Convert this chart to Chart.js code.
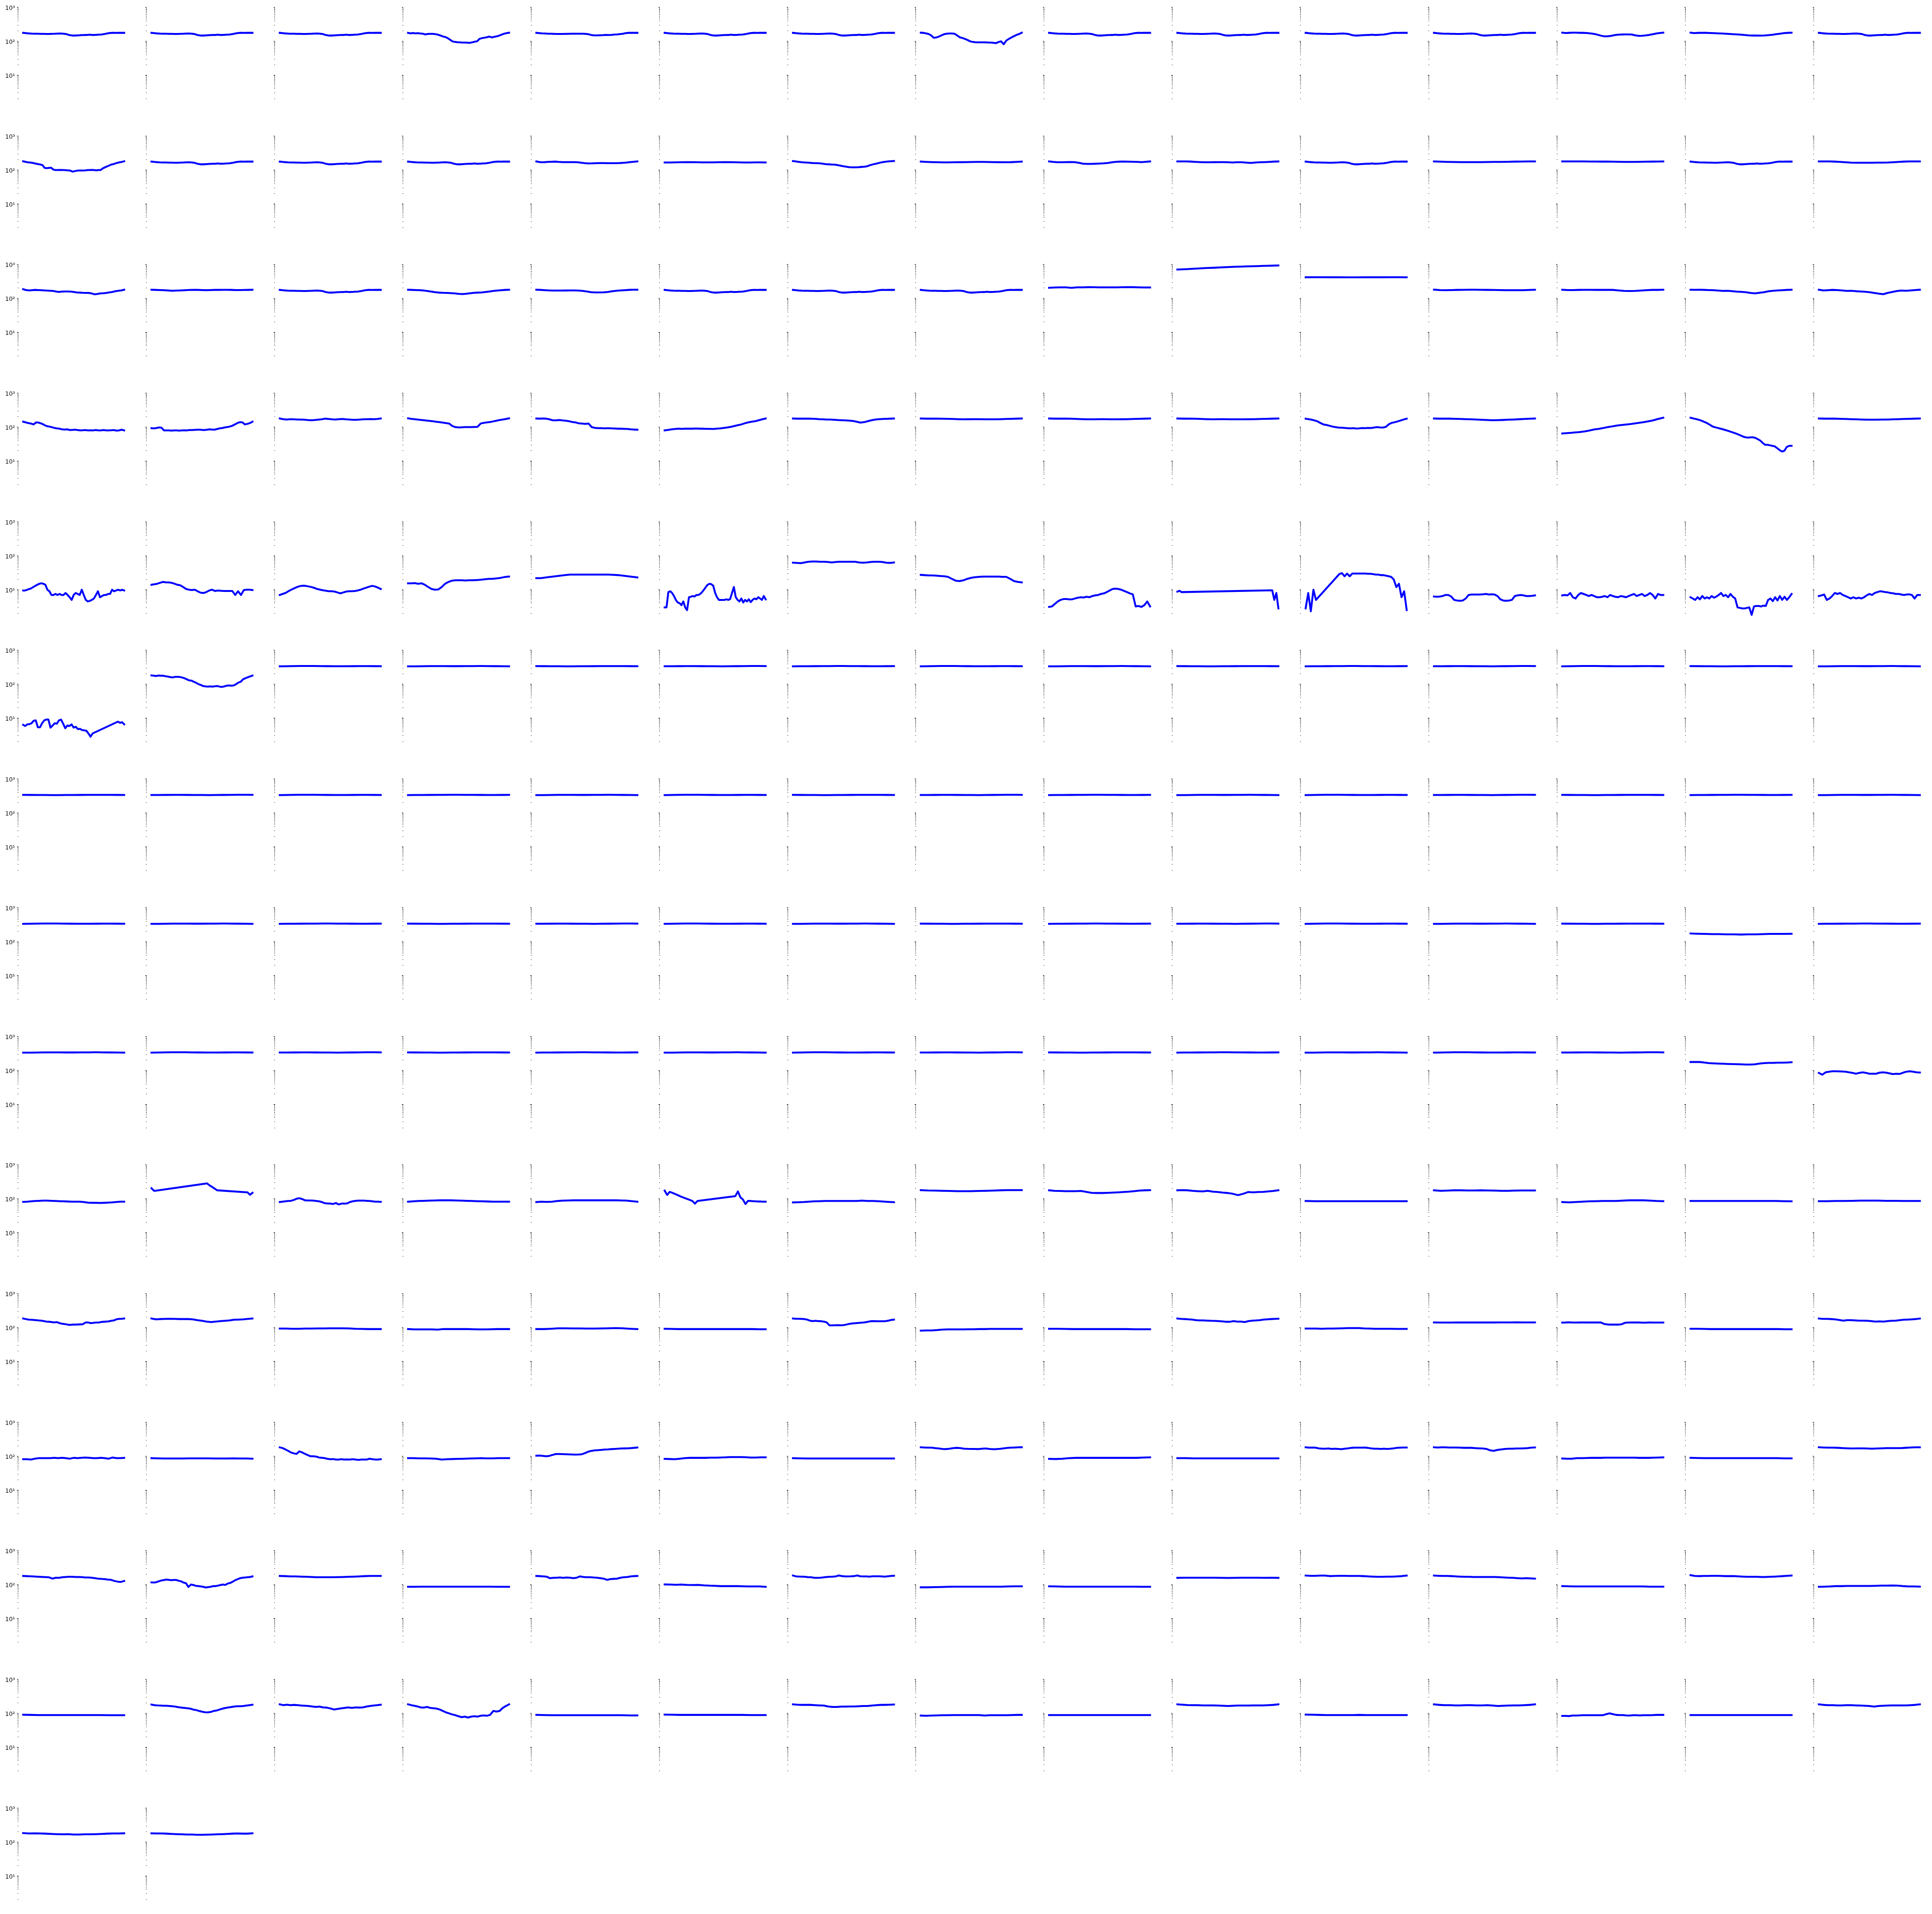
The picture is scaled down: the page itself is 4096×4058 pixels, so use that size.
<!DOCTYPE html>
<html><head><meta charset="utf-8">
<script src="https://cdn.jsdelivr.net/npm/chart.js@4.4.1/dist/chart.umd.min.js"></script>
<style>
html,body{margin:0;padding:0;background:#fff;overflow:hidden;}
#wrap{position:relative;width:4096px;height:4058px;overflow:hidden;background:#fff;}
#wrap canvas{position:absolute;}
</style></head><body><div id="wrap"></div>
<script>
// ---------- tick values / labels ----------
const tickValues = [2,3,4,4.5,5,5.5,6,6.5,7,7.5,8,8.5,9,9.5,10,
  20,30,40,45,50,55,60,65,70,75,80,85,90,95,100,
  200,300,400,450,500,550,600,650,700,750,800,850,900,950,1000];
const majorTicks = [10,100,1000];
const tickLabels = ['10¹','10²','10³'];

// ---------- repeated shapes ----------
const T1  = [178,174,171,169,168,167,166,166,165,165,166,167,169,170,168,163,153,148,148,150,152,153,154,157,154,155,157,159,163,170,176,178,177,178,178,178];
const T1b = [178,175,172,170,168,167,166,165,165,165,166,166,167,167,168,168,168,166,162,154,150,150,151,152,155,153,155,158,160,163,168,175,178,178,178,178];
const FA = [338,340,343,345,346,345,343,341,340,340,340,341,342,342,341,340];
const FB = [342,341,340,339,338,338,339,340,341,342,343,343,342,341,340];
const FC = [336,338,340,342,343,342,341,341,342,343,344,343,341,339,338];
const FD = [340,340,341,342,342,341,340,339,338,339,341,343,345,344,342];
const FE = [338,339,340,341,342,343,344,344,343,342,341,340,340,341,342];
const N = null;

// ---------- series, one list per row ----------
const row1 = [
 T1, T1, T1,
 [178,172,176,172,174,170,168,160,165,166,166,163,158,150,140,135,125,112,100,96,94,93,92,92,91,90,93,97,100,118,124,128,132,138,130,136,140,148,158,168,175,180],
 T1b, T1, T1,
 [180,178,172,165,150,128,130,138,150,162,168,170,170,168,150,132,126,118,110,100,96,94,93,93,93,93,92,92,90,88,95,100,82,105,118,130,142,155,165,180],
 T1, T1, T1, T1,
 [180,176,178,180,180,178,178,176,172,166,158,148,140,140,145,152,157,159,160,160,158,150,145,146,150,155,162,170,176,180],
 [180,175,178,178,178,176,174,172,170,167,165,162,160,157,153,150,148,148,147,149,152,156,162,168,174,178,180],
 T1
];
const row2 = [
 [182,176,170,168,165,160,155,150,146,140,116,114,116,118,104,100,100,101,100,100,99,98,96,90,93,96,97,97,97,98,100,100,101,100,98,100,100,112,120,128,136,146,150,158,165,170,175,182],
 T1, T1, T1,
 [180,172,170,175,176,178,174,172,172,172,172,170,165,160,157,158,160,161,161,160,160,160,161,163,166,172,176,180],
 [168,168,169,170,171,171,170,169,169,169,170,171,171,170,169,168,168,169,169,168],
 [185,180,175,170,168,166,163,161,160,158,155,150,148,146,145,140,135,130,126,122,121,121,122,124,126,130,140,148,155,163,170,176,180,183,185],
 [178,175,172,170,169,169,170,171,172,173,174,174,173,172,171,170,171,174,178],
 [180,174,170,170,172,173,172,165,155,152,152,154,156,158,162,170,176,178,178,177,176,174,172,176,180],
 [180,180,180,178,175,172,170,170,171,172,172,170,168,170,170,166,162,168,170,172,175,178,180],
 T1,
 [180,177,175,173,172,172,172,172,173,174,175,176,178,179,180,180],
 [180,180,180,180,180,179,179,178,178,177,176,175,175,175,176,177,178,179,180],
 T1,
 [180,180,180,178,175,170,166,165,165,165,165,166,166,167,170,174,178,180,180,180]
];
const row3 = [
 [187,176,172,175,178,176,174,172,170,168,166,160,155,158,160,160,158,155,150,148,146,145,145,140,132,135,140,142,145,150,155,162,168,172,180],
 [180,178,176,174,171,168,170,172,175,177,178,178,176,174,176,178,178,179,179,178,176,176,177,178,180],
 T1,
 [180,178,176,174,171,165,158,152,148,146,145,143,140,136,134,137,142,146,148,150,155,160,166,170,175,178,180],
 [180,178,175,172,170,170,170,171,172,172,170,166,160,152,150,150,151,155,162,168,172,175,178,180,180],
 T1, T1, T1,
 [205,210,212,212,205,212,212,214,213,212,212,212,212,213,214,214,212,210,210],
 [710,720,735,750,765,780,795,805,820,835,850,860,870,880,890,900,910,920,930,940],
 [420,421,421,420,420,419,419,420,420,420,421,421,420],
 [181,176,174,176,178,179,180,180,179,178,177,176,175,174,174,175,177,180],
 [180,176,176,178,179,179,178,178,178,178,172,166,165,166,170,175,178,178,180],
 [180,179,180,178,176,174,170,166,168,164,158,156,152,145,140,146,152,162,168,172,175,178,180],
 [180,172,175,178,176,172,166,168,163,160,157,152,145,138,133,145,155,165,170,168,172,176,180]
];
const row4 = [
 [145,138,132,128,120,138,136,128,118,108,104,100,95,92,90,86,85,86,82,83,84,82,80,81,82,80,81,80,82,80,80,82,80,80,81,82,79,80,84,80],
 [93,92,94,98,96,80,80,80,79,80,80,79,80,81,80,82,82,83,84,84,83,82,84,86,85,84,88,92,94,98,100,104,110,120,132,140,138,120,125,132,145],
 [180,172,168,172,170,168,168,166,162,160,162,166,170,178,174,170,168,172,175,170,168,165,165,167,170,172,173,172,175,180],
 [182,176,172,168,164,160,156,152,148,144,140,136,132,128,108,100,98,99,100,100,100,101,102,128,134,138,142,148,155,162,168,175,182],
 [180,178,180,178,170,160,158,162,158,155,150,142,138,130,128,125,128,100,95,93,93,92,93,92,91,90,90,89,88,86,85,84],
 [80,83,86,88,90,89,90,90,90,91,90,90,89,89,88,90,92,95,98,102,108,114,120,130,138,145,150,160,170,180],
 [180,178,178,178,178,177,176,172,170,168,168,165,162,160,158,156,152,145,136,140,150,160,168,172,174,176,178,180],
 [180,178,178,178,177,176,174,172,170,171,172,172,170,170,170,172,174,176,178,180],
 [180,178,178,178,177,175,172,170,170,172,172,170,170,171,172,174,176,178,180],
 [180,178,178,177,175,172,170,172,172,170,170,170,171,172,174,176,178,180],
 [178,172,166,158,148,132,120,116,110,104,100,97,96,95,93,92,93,91,92,94,93,95,94,97,100,98,97,102,122,134,140,148,158,168,178],
 [180,178,178,178,176,174,172,170,168,165,162,160,161,163,166,168,171,174,177,180],
 [65,66,67,68,70,71,73,75,78,82,86,88,92,96,100,104,108,112,115,118,121,124,128,132,136,140,146,152,160,170,180,190],
 [190,182,175,168,160,150,140,130,118,106,100,96,92,88,84,80,76,72,68,64,60,56,52,50,49,50,50,48,44,40,34,30,30,29,28,27,24,21,19,20,26,28,28],
 [180,178,178,178,176,174,172,170,168,166,166,166,167,168,170,172,174,176,178,180]
];
const row5 = [
 [9.5,9.5,10,10.5,11,12,13,14,15,15.5,15,14,10,9,7,7,7.5,7,7.5,7,7,8,7,6,5,7,8,7.5,7,10,7,5,4.5,4.7,5,5.5,7,9,6,6.5,7,7,7.5,7.5,10,9,9.5,10,9.5,10,9.5],
 [14,14.5,15,16,17,16.5,16.5,16,15,14,13.5,12,10.5,10,9.8,10,9,8.2,8,8.5,9.5,10,9.2,9.5,9.3,9.2,9.2,9.2,9.2,7,9,7,9.8,10,10,9.8],
 [7,7.5,8,9,10,11,12,12.8,13.2,13,12.5,12,11.3,10.5,10,9.6,9.3,9,9,8.8,8.3,7.8,8.3,8.8,9,9,9.2,9.5,10,10.8,11.5,12.3,13,12.5,11.5,10.5],
 [15.5,15.5,15.7,15,15.5,14,12,10.5,10,10.2,12,15,17,18.5,19,19,19,18.8,19,19,19.2,19.5,20,20.5,21,21,21.5,22,23,24,24.5],
 [22,22,23,24,25,26,27,28,28,28,28,28,28,28,28,28,27.5,27,26,25,24,23],
 [3,3,8.5,9,8,6.5,5,4.2,4,3.5,4.5,3,2.5,6,6.2,6.5,6.3,7,7,7.5,8.5,10,12,14,15,14.5,13,8,6,5,5,5,5,5.2,5,5.3,8,12,6,5,4.5,5.5,4.2,5,4.5,5.2,4.3,5,5.5,5.2,6,5.5,5,6.5,5.2],
 [63,62,61,64,67,68,68,67,67,66,64,66,67,67,67,67,67,64,63,64,66,67,67,66,63,62,64],
 [27.5,27,26.5,26.5,26,25.5,25,24,21,18.5,18,19,21,22.5,23.5,24,24.5,24.5,24.5,24.5,24.5,24,24,21,18,17,16.5],
 [3.1,3.2,3.8,4.5,5,5.3,5.3,5.2,5.2,5.5,5.8,6,5.9,6.2,6,6.5,6.8,7,7.5,7.8,8.5,9.5,10.5,10.8,10.5,10,9.2,8.5,7.8,7.3,3.2,3.3,3.1,3.5,4.5,3.2],
 [8.8,9.3,8.5,N,N,N,N,N,N,N,N,N,N,N,N,N,N,N,N,N,N,N,N,N,N,N,N,N,N,N,N,N,N,N,N,N,N,N,N,N,N,N,N,N,N,N,9.6,5,8,2.8],
 [2.8,8,2.3,10,5,N,N,N,N,N,N,N,N,29,31,25,30,25,30,30,30,30,30,30,29.5,29.5,29,28,28,27,27,26,25,24,20,12,15,6,9,2.5],
 [6.3,6.2,6.3,6.5,7,7,6.3,5,4.8,4.7,4.8,5.5,7,7.2,7.2,7.2,7.2,7.3,7.5,7.2,7.3,7.2,6.5,5.2,4.8,4.7,4.8,5,6.5,6.8,7,6.8,6.5,6.5,6.6,6.8],
 [6.8,7,6.8,8,6,5.5,7,8,7.5,7,6.5,7,6.5,6,6,6.2,6.5,6,7,6.5,6.2,6,6.5,6.3,6,6.5,7,7.5,6.5,7,7.5,6.5,7,8,7,5.5,7.5,7,7],
 [6,5.5,5,6,5.2,6.5,5.5,6,5.5,6.5,5.8,6.3,7,8,6.5,7,6,7.5,6.2,5.5,3,2.9,2.8,2.8,2.9,3,1.8,3.2,3.3,3.3,3.2,3.4,3.3,5,5.5,4.6,6,4.8,6.5,5,6.2,5,6,7.5],
 [6.5,6.8,7.2,5,5.5,6.5,8,7.5,8,7,6.5,6,5.5,6,5.5,5.8,5.5,6,6.8,7.5,7,8,8.5,9,8.8,8.5,8.3,8,7.8,7.5,7.5,7.2,7,7.2,7.3,7,5.5,7,7]
];
const row6 = [
 [6.3,5.8,6.5,6.6,7,8.3,8.5,5.3,5.3,7,8.5,9,9,5.2,6,7,6.8,8.5,9,6.8,5,6,5.8,6.5,5.2,5.5,4.7,4.8,4.4,4.3,4.2,3.5,2.8,3.5,N,N,N,N,N,N,N,N,N,N,N,7.8,7.2,7.5,6.5],
 [182,178,175,180,178,178,172,168,162,158,165,165,163,158,150,140,130,128,118,110,100,95,88,86,85,86,85,87,88,85,83,86,90,92,90,92,100,112,118,140,150,160,170,180],
 FA, FC, FB, FD, FE, FA, FC, FB, FE, FD, FA, FB, FC
];
const row7 = [FB, FD, FA, FE, FC, FA, FB, FD, FE, FC, FA, FD, FB, FE, FC];
const row8 = [FA, FC, FE, FB, FD, FA, FC, FB, FE, FD, FA, FC, FB,
 [175,172,170,168,168,165,165,163,165,165,168,170,170,170,172],
 FE];
const row9 = [FC, FA, FD, FB, FE, FC, FA, FD, FB, FE, FC, FA, FD,
 [178,178,178,172,165,162,160,158,156,155,153,152,150,150,152,160,165,167,168,170,170,172,175],
 [85,75,88,92,95,95,94,93,92,88,85,80,85,88,85,80,80,80,86,88,86,82,78,80,79,86,92,95,92,88,87]];
const row10 = [
 [81,82,84,86,87,88,88,87,86,85,84,83,82,82,82,80,77,76,76,75,76,77,78,80,82,82],
 [205,172,175,N,N,N,N,N,N,N,N,N,N,N,N,N,N,N,N,N,N,N,285,249,225,200,178,N,N,N,N,N,N,N,N,N,N,N,155,131,150],
 [80,82,84,86,87,92,100,104,98,90,89,89,88,86,84,80,74,73,72,70,75,68,72,72,73,80,84,87,88,88,88,87,86,84,82,82,81],
 [82,84,86,87,88,89,90,90,90,89,88,87,86,85,84,83,82,82,82,82],
 [80,82,81,82,86,88,89,90,90,90,90,90,90,90,90,90,89,88,85,82],
 [175,130,160,150,140,130,120,112,105,98,92,86,72,86,N,N,N,N,N,N,N,N,N,N,N,N,N,N,120,165,110,95,70,87,86,85,84,83,83,82,82],
 [78,79,80,82,84,85,86,86,86,86,86,86,86,88,86,86,85,83,81,79],
 [180,176,174,172,170,168,168,168,170,172,175,178,180,180,180],
 [178,172,170,168,168,168,170,160,150,148,148,150,152,155,158,162,168,175,178,180],
 [178,180,178,172,168,165,172,162,158,152,148,140,128,140,158,155,158,160,165,170,178],
 [86,85,85,85,85,85,85,85,85,85,85,85],
 [178,172,175,178,178,176,176,178,176,174,172,172,175,176,176,176],
 [80,78,80,82,84,85,86,86,86,88,90,90,90,88,86,85],
 [86,86,86,86,86,86,86,86,86,86,86,86,85,84],
 [85,85,86,86,87,88,88,88,87,87,86,86,86]
];
const row11 = [
 [185,178,172,170,168,165,162,160,155,150,148,145,142,145,135,130,127,123,120,122,122,123,124,125,140,142,135,137,140,140,145,148,150,152,158,162,175,180,182,185],
 [185,175,178,180,182,180,178,178,178,175,165,158,150,145,150,155,158,162,170,172,175,180,185],
 [93,93,92,92,93,93,94,94,95,95,95,94,92,91,90,90,90],
 [90,88,88,88,88,87,90,90,90,90,90,89,88,88,89,90,90,90],
 [90,90,92,95,95,94,94,93,93,94,95,96,95,92,90],
 [92,91,90,90,90,90,90,90,90,90,90,90,90,90,89,89],
 [185,182,182,180,178,172,160,155,158,155,154,150,142,116,116,117,118,117,118,122,128,132,134,136,138,140,144,150,155,154,153,153,153,155,160,168,172],
 [81,82,82,84,87,88,88,88,88,89,89,90,90,91,91,91,91,91,91,91],
 [92,92,91,90,90,90,90,90,90,90,90,89,89,89],
 [185,180,178,175,172,165,162,162,160,158,157,155,152,148,148,155,150,150,145,155,160,162,165,172,175,178,180,182],
 [93,93,93,92,93,93,94,95,96,96,96,94,93,92,92,92,92,91,91,91],
 [141,140,140,140,141,141,141,141,141,141,141,142,142,142,143,142,142,142],
 [140,141,143,140,140,141,141,141,141,141,141,142,128,123,122,122,122,125,138,140,141,141,141,139,139,141,140,140,140,140],
 [92,92,91,90,90,90,90,90,90,90,90,90,90,90,89,89],
 [185,180,180,178,175,168,160,165,165,162,160,160,158,155,150,152,150,155,158,160,165,170,172,175,178,185]
];
const row12 = [
 [82,82,80,85,88,88,88,88,90,88,90,88,85,90,88,90,92,90,88,88,90,88,85,92,88,88,90],
 [88,87,86,86,86,86,87,87,87,87,86,86,86,87,86,86,85],
 [184,175,160,145,130,122,118,140,130,118,108,100,100,98,92,90,88,84,82,83,80,80,82,80,81,80,82,80,78,80,80,80,85,82,80,80,82],
 [88,88,87,87,86,85,80,82,83,84,85,86,87,88,87,87,88,88,88],
 [104,105,103,100,103,110,117,117,116,115,114,113,112,113,115,125,138,145,150,152,155,158,160,163,165,167,170,171,172,175,178,182],
 [84,83,82,85,88,90,90,90,90,91,91,92,93,95,95,95,94,92,92,93,93],
 [88,87,86,86,86,86,86,86,86,86,86,86,86,86,86],
 [185,182,180,180,175,170,165,163,168,175,178,175,168,166,165,165,163,168,170,165,162,163,166,172,177,180,182,184,185],
 [84,83,85,88,90,90,90,90,90,90,90,90,90,90,92,93],
 [88,88,87,87,87,87,87,87,87,87,87,87,87],
 [185,180,182,180,172,168,168,170,165,168,165,162,168,172,178,180,180,180,182,178,172,168,168,165,168,165,168,172,178,180,182,182],
 [185,182,185,185,182,182,182,180,178,178,178,175,172,170,165,150,145,155,160,165,168,168,170,170,172,175,180,182],
 [86,85,85,88,88,89,90,90,90,91,91,91,91,91,91,91,90,90,90,91,92,93],
 [90,89,88,88,88,88,88,88,88,88,88,88,88,87,87],
 [185,182,180,180,178,175,172,170,172,172,170,168,170,172,175,175,175,175,178,182,185,185]
];
const row13 = [
 [180,178,176,174,172,170,168,166,163,150,160,158,165,168,170,170,168,167,166,162,162,160,155,150,147,145,140,138,128,122,120,128],
 [116,115,118,125,132,136,140,138,135,137,137,130,125,115,110,85,100,97,92,90,88,86,82,84,86,90,90,93,97,100,98,108,112,122,135,145,155,160,162,165,168,175],
 [180,178,175,175,172,170,168,165,165,165,165,166,168,170,172,175,178,180,180,180],
 [86,86,87,87,87,87,87,87,87,87,87,87,87,87,86,86,86],
 [180,178,175,172,155,158,160,162,158,162,160,155,160,175,168,165,165,162,160,155,150,138,145,148,150,160,165,168,175,178,180],
 [101,100,99,100,98,97,98,95,93,92,90,90,90,90,89,88,88,88,86],
 [185,175,173,172,170,165,165,158,158,160,163,167,170,172,175,186,178,175,175,176,178,186,176,174,175,172,176,176,176,174,172,176,180,182],
 [83,83,84,85,86,87,87,87,87,87,87,87,87,88,89,89],
 [89,88,87,87,87,87,87,87,87,87,87,87,86,86],
 [158,160,160,160,160,160,158,157,158,160,160,160,158,160,158],
 [185,182,182,185,185,178,180,182,182,180,180,180,178,175,172,170,170,172,172,175,178,185],
 [185,182,180,180,178,175,172,170,170,168,168,168,168,168,167,165,162,160,158,155,152,155,152,150],
 [90,89,88,88,88,88,88,88,88,88,88,88,88,87,87,87],
 [190,180,178,180,180,182,182,180,178,178,178,175,172,170,170,170,168,168,170,172,175,178,182,185],
 [86,87,88,90,90,91,91,91,91,91,92,93,93,94,93,90,88,88,87]
];
const row14 = [
 [91,90,89,89,89,89,89,89,89,89,89,88,88,88],
 [182,175,172,170,168,167,165,162,158,152,148,145,142,138,130,125,118,112,108,107,110,118,122,130,138,145,150,155,160,162,162,165,170,175,180],
 [185,175,180,175,178,175,170,168,165,160,155,158,150,148,140,130,135,140,145,150,145,150,148,150,158,165,170,175,180],
 [185,175,168,160,150,148,155,145,142,138,130,118,107,100,93,88,82,77,80,75,80,82,80,85,87,85,90,118,113,118,145,165,185],
 [90,89,88,88,88,88,88,88,88,88,88,88,87,87],
 [92,91,90,90,90,90,90,90,90,90,90,89,89,89],
 [185,180,178,178,178,175,172,170,160,155,155,158,158,160,160,162,165,165,170,175,178,178,180,182],
 [86,85,86,87,88,88,89,89,89,89,89,89,86,88,88,88,88,89,90,90],
 [89,89,89,89,89,89,89,89,89,89,89,89],
 [185,180,176,175,175,172,172,172,170,168,165,168,170,170,170,172,172,172,175,178,185],
 [92,91,90,89,89,89,89,89,90,89,89,89,89,89,89,89],
 [185,178,175,175,172,172,175,175,172,172,175,170,165,168,170,172,172,175,178,185],
 [84,84,83,86,86,87,88,88,88,88,88,88,88,94,100,95,90,89,89,87,86,88,88,87,88,88,88,89,90,90,90],
 [89,89,89,89,89,89,89,89,89,89,89,89,89],
 [185,178,175,175,172,172,175,175,172,170,168,165,158,165,168,170,172,172,172,172,175,178,185]
];
const row15 = [
 [185,180,182,180,178,175,172,170,172,168,168,170,170,172,175,178,180,180,182],
 [182,180,180,178,175,172,170,168,168,165,165,166,168,170,172,175,178,180,178,178,182]
];
const rows = [row1,row2,row3,row4,row5,row6,row7,row8,row9,row10,row11,row12,row13,row14,row15];

// ---------- layout (reference px scaled by S) ----------
const S = 0.916;
const COL_PITCH = 296.8 * S;
const ROW_PITCH = 297.7 * S;
const AREA_LEFT0 = 43.4 * S;      // chart-area left edge (axis line) of column 0
const TOP1000 = 17.3 * S;         // pixel of 10^3 in row 0
const DECADE = 78.3 * S;          // pixels per decade
const CHART_W = 257.2 * S;        // chart-area width
const CANVAS_W = 272;
const AXIS_W = CANVAS_W - CHART_W;
const CANVAS_H = 250;
const LOG_MAX = 3.1;
const XPAD = 0.045;
const MAJ = 3.7 * S, MIN = 2.0 * S;

Chart.defaults.font.family = 'DejaVu Sans';

function isMajor(v) { return majorTicks.some(m => Math.abs(m - v) < 1e-9); }

function makeConfig(vals, showLabels) {
  const pts = vals.map((v, i) => ({x: i / (vals.length - 1), y: v}));
  return {
    type: 'line',
    data: {datasets: [{
      data: pts, borderColor: '#0000ff', borderWidth: 4.4 * S,
      pointRadius: 0, pointHoverRadius: 0, tension: 0, spanGaps: true,
      borderCapStyle: 'square', borderJoinStyle: 'round', fill: false
    }]},
    options: {
      responsive: false, animation: false, devicePixelRatio: 1, events: [],
      layout: {padding: 0},
      plugins: {legend: {display: false}, tooltip: {enabled: false}, title: {display: false}},
      scales: {
        x: {type: 'linear', display: false, min: -XPAD, max: 1 + XPAD},
        y: {
          type: 'logarithmic', position: 'left', min: 1, max: Math.pow(10, LOG_MAX), bounds: 'data',
          afterBuildTicks: (sc) => { sc.ticks = tickValues.map(v => ({value: v})); },
          afterFit: (sc) => { sc.width = AXIS_W; },
          border: {display: false},
          grid: {
            display: true, drawOnChartArea: false, drawTicks: true,
            tickLength: MAJ, tickColor: '#000000', tickWidth: 1,
            tickBorderDash: (ctx) => (ctx.tick && isMajor(ctx.tick.value)) ? [] : [0, MAJ - MIN, MIN, 100]
          },
          ticks: {
            autoSkip: false, padding: 4.6 * S, color: '#000000',
            font: {family: 'DejaVu Sans', size: 13.6 * S},
            labelOffset: 2.2 * S,
            callback: (v) => {
              if (!showLabels) return '';
              const k = majorTicks.findIndex(m => Math.abs(m - v) < 1e-9);
              return k >= 0 ? tickLabels[k] : '';
            }
          }
        }
      }
    }
  };
}

const wrap = document.getElementById('wrap');
rows.forEach((row, r) => {
  row.forEach((vals, c) => {
    const cv = document.createElement('canvas');
    cv.width = CANVAS_W; cv.height = CANVAS_H;
    cv.style.left = (AREA_LEFT0 + c * COL_PITCH - AXIS_W) + 'px';
    cv.style.top = '0px';
    wrap.appendChild(cv);
    const chart = new Chart(cv, makeConfig(vals, c === 0));
    const h = chart.chartArea.bottom - chart.chartArea.top;
    chart.options.scales.y.min = Math.pow(10, LOG_MAX - h / DECADE);
    chart.update('none');
    const p = chart.scales.y.getPixelForValue(1000);
    cv.style.top = (TOP1000 + r * ROW_PITCH - p) + 'px';
  });
});
</script>
</body></html>
